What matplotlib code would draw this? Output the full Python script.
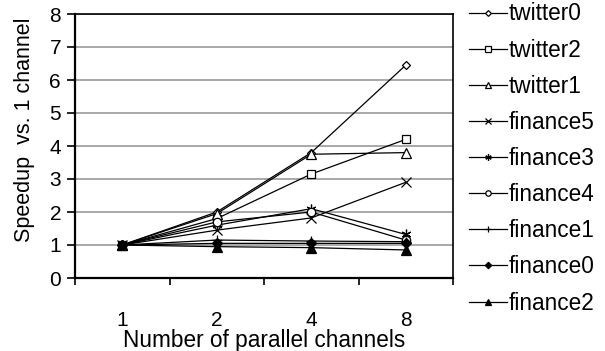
import matplotlib
matplotlib.use("Agg")
import matplotlib.pyplot as plt

plt.rcParams["font.family"] = ["Liberation Sans", "DejaVu Sans"]

channels = ["1", "2", "4", "8"]
names = ["twitter0", "twitter2", "twitter1", "finance5", "finance3",
         "finance4", "finance1", "finance0", "finance2"]
twitter0 = [1.0, 2.0, 3.8, 6.45]
twitter2 = [1.0, 1.8, 3.15, 4.2]
twitter1 = [1.0, 1.95, 3.75, 3.8]
finance5 = [1.0, 1.45, 1.82, 2.9]
finance3 = [1.0, 1.6, 2.1, 1.32]
finance4 = [1.0, 1.7, 2.0, 1.15]
finance1 = [1.0, 1.15, 1.12, 1.1]
finance0 = [1.0, 1.05, 1.05, 1.05]
finance2 = [1.0, 0.95, 0.92, 0.85]
series = [twitter0, twitter2, twitter1, finance5, finance3,
          finance4, finance1, finance0, finance2]

ASTER = (6, 2, 0)
# marker, filled, size
styles = [("D", False, 4.5), ("s", False, 6), ("^", False, 6.5),
          ("x", False, 6.5), (ASTER, False, 7), ("o", False, 6),
          ("+", False, 7), ("D", True, 5), ("^", True, 6.5)]

fig = plt.figure(figsize=(6.05, 3.51), dpi=100)
ax = fig.add_axes([75 / 605, 1 - 278 / 351, (453 - 75) / 605, (278 - 14) / 351])

x = list(range(len(channels)))
for name, ys, (m, filled, ms) in zip(names, series, styles):
    ax.plot(x, ys, color="black", lw=0.9, marker=m, ms=ms,
            mec="black", mew=0.9,
            mfc="black" if filled else "white", label=name)

ax.set_xlim(-0.5, 3.5)
ax.set_ylim(0, 8)
ax.set_yticks(range(0, 9))
ax.set_xticks([i - 0.5 for i in range(5)], minor=False)
ax.set_xticklabels([])
ax.set_xticks(x, minor=True)
ax.set_xticklabels(channels, minor=True)
ax.tick_params(axis="x", which="minor", length=0, pad=24, labelsize=15)
ax.tick_params(axis="x", which="major", length=5, width=1.2, direction="out")
ax.tick_params(axis="y", length=6, width=1.2, direction="out", labelsize=15, pad=4)
ax.grid(axis="y", color="#999999", lw=1.2)
ax.set_axisbelow(True)
for side in ["left", "bottom"]:
    ax.spines[side].set_linewidth(1.6)
for side in ["top", "right"]:
    ax.spines[side].set_linewidth(1.2)

ax.set_xlabel("Number of parallel channels", fontsize=16.3)
ax.xaxis.label.set_va("baseline")
ax.xaxis.set_label_coords(0.5, (278 - 347) / 264)
ax.set_ylabel("Speedup  vs. 1 channel", fontsize=15.5)
ax.yaxis.set_label_coords(-0.105, 0.56)

fig.legend(loc="upper left", bbox_to_anchor=(469 / 605, 0.993), frameon=False,
           fontsize=16.3, handlelength=1.7, handletextpad=0.05, markerscale=0.65,
           labelspacing=0.58, borderaxespad=0.0, borderpad=0.0)

fig.savefig("out.png", dpi=100)
